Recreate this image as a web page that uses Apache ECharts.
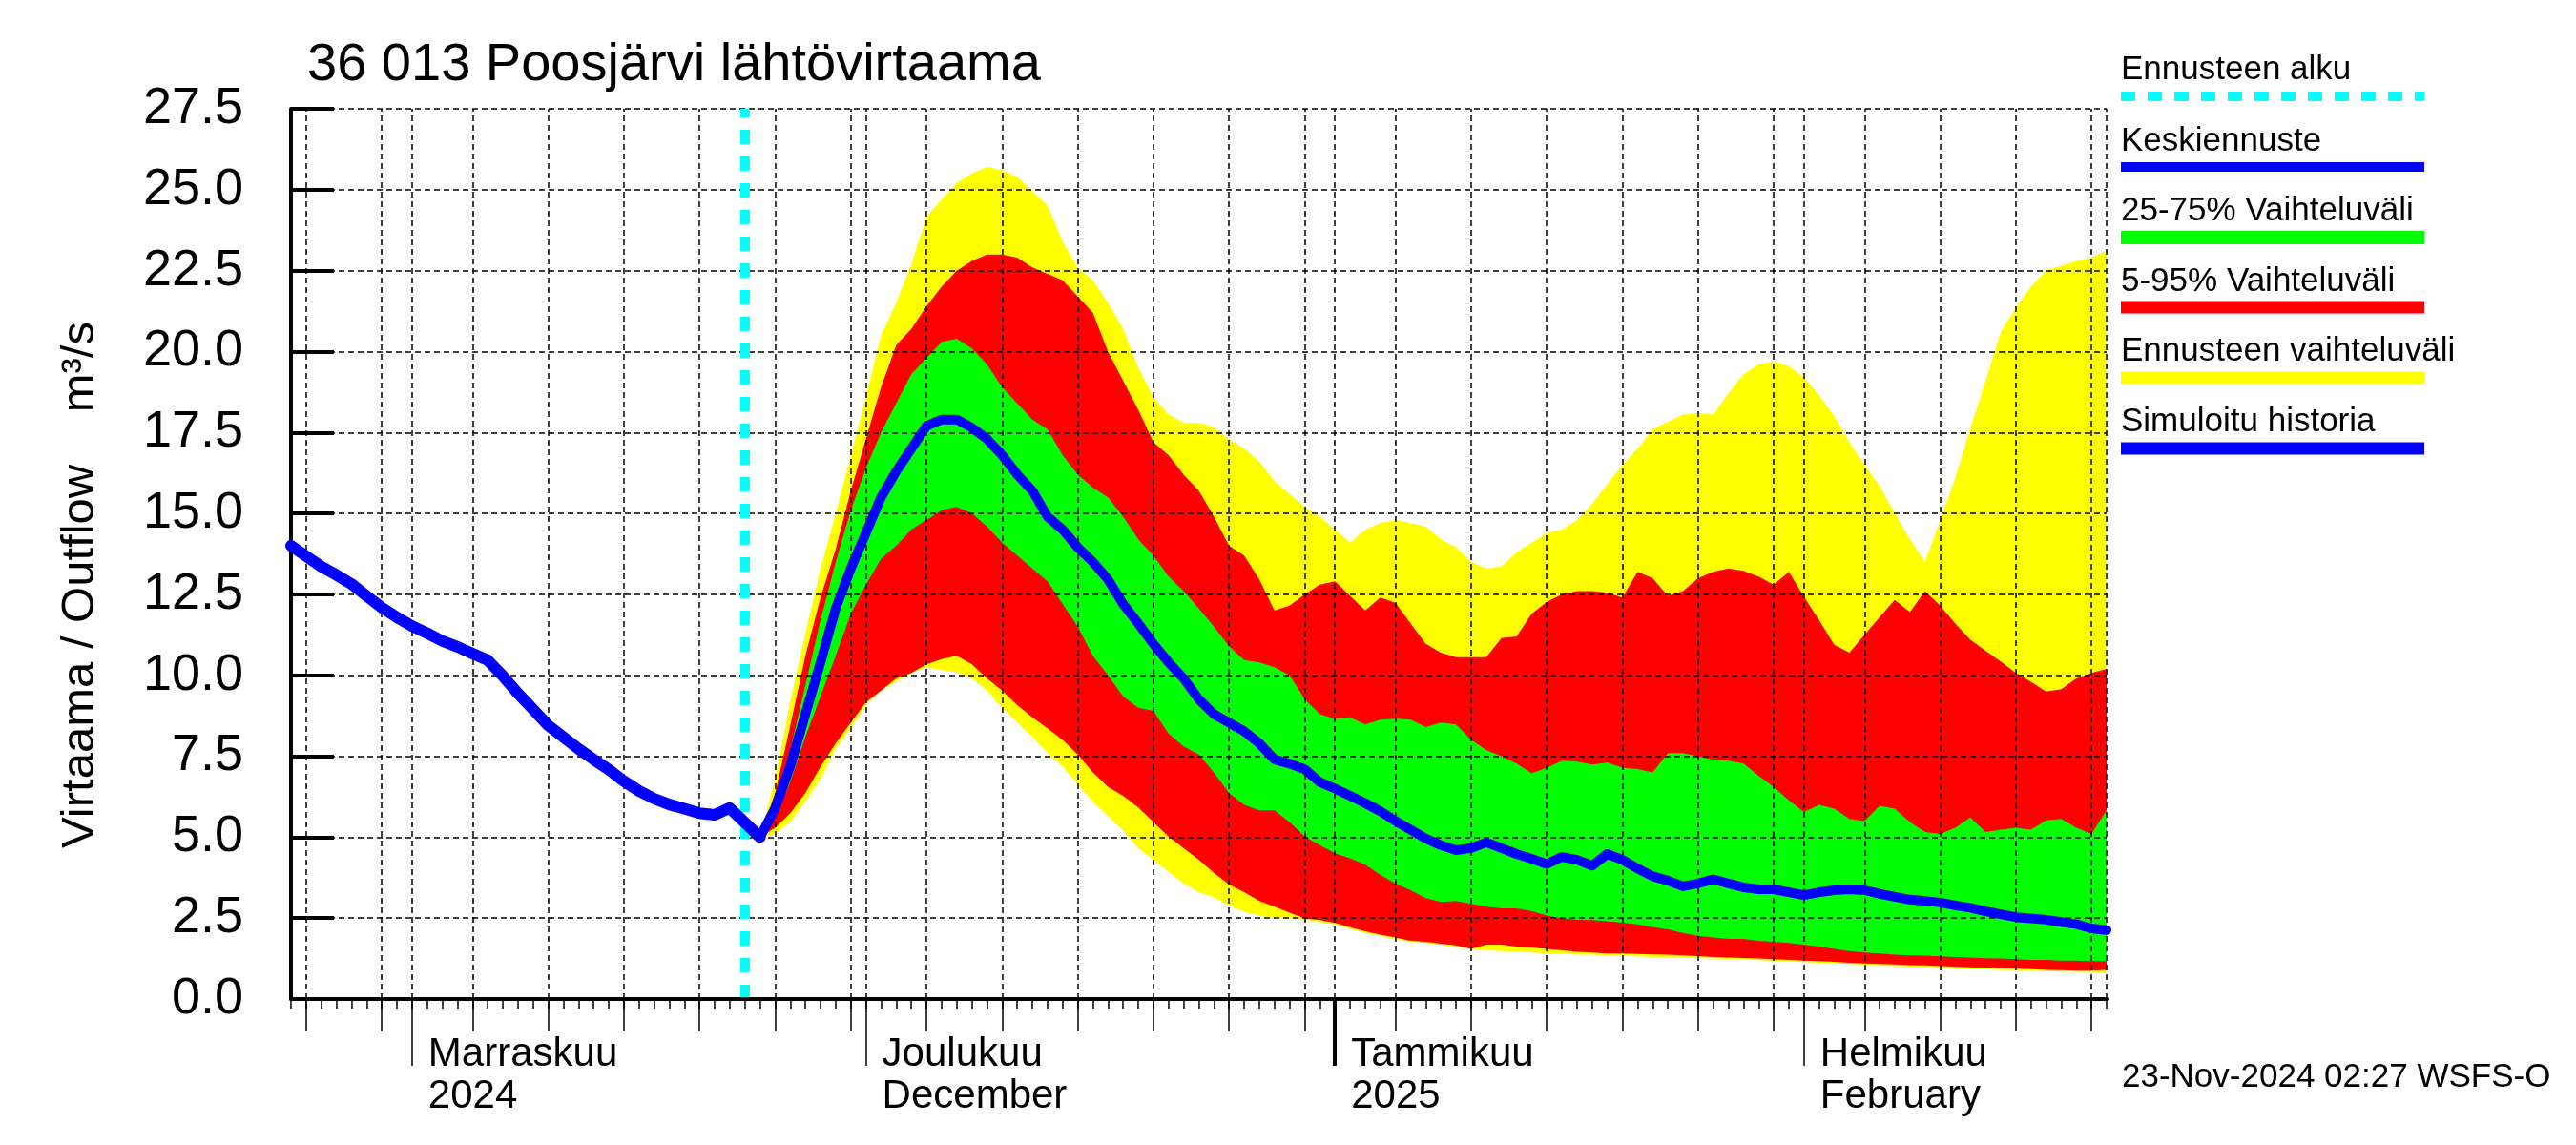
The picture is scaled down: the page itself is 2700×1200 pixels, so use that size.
<!DOCTYPE html>
<html>
<head>
<meta charset="utf-8">
<script src="https://cdn.jsdelivr.net/npm/echarts@6/dist/echarts.min.js"></script>
<style>
html,body{margin:0;padding:0;background:#fff;}
#chart{width:2700px;height:1200px;}
</style>
</head>
<body>
<div id="chart"></div>
<script>
// ---------------- data ----------------
const titleText = '36 013 Poosjärvi lähtövirtaama';
const yAxisName = 'Virtaama / Outflow    m³/s';
const stampText = '23-Nov-2024 02:27 WSFS-O';

const axisStart = '2024-10-24';
const axisEnd = '2025-02-21';
const forecastStartLine = '2024-11-23';

const yMin = 0, yMax = 27.5, yStep = 2.5;

// simulated history, daily from 2024-10-24
const historyStart = '2024-10-24';
const history = [14.0, 13.68, 13.36, 13.1, 12.82, 12.45, 12.09, 11.79, 11.52, 11.3,
  11.06, 10.88, 10.67, 10.47, 9.98, 9.44, 8.95, 8.45, 8.09, 7.73,
  7.4, 7.09, 6.73, 6.43, 6.19, 6.01, 5.88, 5.74, 5.69, 5.9,
  5.45, 5.0];

// forecast, daily from 2024-11-24
const forecastStart = '2024-11-24';
const ensMax = [5.0, 6.8, 9.2, 11.3, 13.3, 15.0, 16.8, 18.6, 20.5, 21.5,
  22.7, 24.15, 24.7, 25.2, 25.5, 25.7, 25.6, 25.4, 24.96, 24.5,
  23.4, 22.6, 22.2, 21.5, 20.7, 19.5, 18.6, 18.05, 17.8, 17.8,
  17.65, 17.3, 17.0, 16.6, 16.0, 15.6, 15.2, 14.9, 14.5, 14.1,
  14.5, 14.7, 14.8, 14.7, 14.6, 14.2, 13.95, 13.5, 13.3, 13.36,
  13.8, 14.1, 14.4, 14.5, 14.8, 15.3, 15.9, 16.5, 17.0, 17.6,
  17.83, 18.05, 18.1, 18.05, 18.7, 19.3, 19.6, 19.7, 19.55, 19.2,
  18.65, 18.0, 17.2, 16.5, 15.85, 15.0, 14.2, 13.5, 14.8, 16.1,
  17.65, 19.1, 20.6, 21.35, 22.0, 22.5, 22.65, 22.8, 22.9, 23.1];
const p95 = [5.0, 6.37, 8.45, 10.6, 12.4, 13.9, 15.7, 17.3, 18.9, 20.2,
  20.7, 21.4, 22.0, 22.5, 22.8, 23.0, 23.0, 22.9, 22.6, 22.4,
  22.2, 21.7, 21.2, 20.0, 19.1, 18.2, 17.2, 16.8, 16.2, 15.7,
  14.9, 14.0, 13.7, 12.96, 12.0, 12.15, 12.5, 12.8, 12.9, 12.45,
  12.0, 12.4, 12.24, 11.6, 10.97, 10.7, 10.56, 10.56, 10.56, 11.15,
  11.2, 11.9, 12.27, 12.5, 12.6, 12.6, 12.55, 12.4, 13.2, 13.0,
  12.45, 12.6, 13.0, 13.2, 13.3, 13.23, 13.05, 12.8, 13.2, 12.42,
  11.7, 10.94, 10.7, 11.25, 11.8, 12.33, 11.95, 12.6, 12.15, 11.6,
  11.1, 10.76, 10.43, 10.07, 9.8, 9.5, 9.57, 9.9, 10.07, 10.2];
const p75 = [5.0, 6.19, 7.7, 9.7, 11.7, 13.5, 15.1, 16.4, 17.5, 18.4,
  19.3, 19.8, 20.3, 20.4, 20.1, 19.6, 18.9, 18.4, 17.9, 17.6,
  16.8, 16.2, 15.8, 15.5, 14.9, 14.2, 13.7, 13.05, 12.6, 12.06,
  11.5, 10.9, 10.47, 10.4, 10.25, 10.0, 9.26, 8.8, 8.66, 8.7,
  8.48, 8.63, 8.66, 8.63, 8.4, 8.54, 8.48, 8.0, 7.69, 7.5,
  7.27, 6.97, 7.15, 7.36, 7.33, 7.24, 7.3, 7.15, 7.1, 7.0,
  7.6, 7.6, 7.5, 7.4, 7.36, 7.27, 6.9, 6.55, 6.14, 5.78,
  6.0, 5.88, 5.56, 5.5, 5.97, 5.88, 5.47, 5.16, 5.1, 5.29,
  5.61, 5.16, 5.23, 5.29, 5.23, 5.52, 5.56, 5.29, 5.1, 5.83];
const median = [5.0, 5.9, 7.2, 8.8, 10.4, 12.06, 13.3, 14.4, 15.5, 16.3,
  17.0, 17.7, 17.9, 17.9, 17.65, 17.3, 16.8, 16.2, 15.7, 14.9,
  14.5, 13.95, 13.5, 12.96, 12.2, 11.6, 10.97, 10.4, 9.9, 9.26,
  8.8, 8.54, 8.27, 7.9, 7.4, 7.27, 7.1, 6.7, 6.5, 6.28,
  6.05, 5.8, 5.5, 5.23, 4.96, 4.75, 4.6, 4.66, 4.84, 4.66,
  4.48, 4.33, 4.17, 4.39, 4.3, 4.12, 4.48, 4.3, 4.03, 3.79,
  3.66, 3.48, 3.57, 3.7, 3.57, 3.45, 3.39, 3.39, 3.3, 3.21,
  3.3, 3.36, 3.39, 3.36, 3.25, 3.16, 3.07, 3.03, 2.98, 2.89,
  2.82, 2.71, 2.62, 2.53, 2.49, 2.45, 2.38, 2.31, 2.18, 2.13];
const p25 = [5.0, 5.65, 6.7, 8.1, 9.35, 10.6, 11.9, 12.8, 13.6, 14.0,
  14.5, 14.8, 15.1, 15.2, 15.0, 14.6, 14.1, 13.7, 13.3, 12.9,
  12.2, 11.5, 10.6, 10.0, 9.35, 9.0, 8.9, 8.2, 7.8, 7.55,
  7.0, 6.37, 6.0, 5.83, 5.83, 5.47, 5.02, 4.75, 4.5, 4.35,
  4.15, 3.84, 3.57, 3.36, 3.12, 3.0, 3.03, 2.94, 2.85, 2.8,
  2.8, 2.72, 2.58, 2.49, 2.45, 2.44, 2.4, 2.36, 2.31, 2.22,
  2.15, 2.04, 1.95, 1.9, 1.86, 1.86, 1.8, 1.77, 1.73, 1.68,
  1.62, 1.55, 1.48, 1.44, 1.41, 1.37, 1.35, 1.34, 1.32, 1.3,
  1.28, 1.26, 1.25, 1.23, 1.21, 1.21, 1.19, 1.19, 1.17, 1.17];
const p5 = [5.0, 5.29, 5.74, 6.37, 7.18, 7.9, 8.54, 9.17, 9.53, 9.9,
  10.07, 10.34, 10.5, 10.6, 10.34, 9.9, 9.53, 9.08, 8.7, 8.36,
  8.0, 7.55, 7.0, 6.55, 6.28, 5.92, 5.47, 5.02, 4.66, 4.3,
  3.9, 3.54, 3.3, 3.03, 2.85, 2.67, 2.49, 2.44, 2.35, 2.22,
  2.09, 1.99, 1.9, 1.8, 1.77, 1.71, 1.66, 1.55, 1.68, 1.68,
  1.62, 1.59, 1.55, 1.5, 1.46, 1.44, 1.41, 1.41, 1.39, 1.38,
  1.37, 1.35, 1.33, 1.3, 1.28, 1.27, 1.25, 1.23, 1.21, 1.19,
  1.17, 1.15, 1.12, 1.1, 1.08, 1.07, 1.05, 1.04, 1.02, 1.0,
  0.98, 0.97, 0.95, 0.94, 0.92, 0.9, 0.89, 0.88, 0.88, 0.9];
const ensMin = [5.0, 5.1, 5.47, 6.1, 6.8, 7.73, 8.36, 9.08, 9.53, 9.8,
  10.07, 10.25, 10.16, 10.1, 9.9, 9.53, 9.0, 8.54, 8.1, 7.6,
  7.18, 6.64, 6.1, 5.65, 5.2, 4.66, 4.3, 3.93, 3.57, 3.3,
  3.15, 2.89, 2.7, 2.58, 2.49, 2.49, 2.45, 2.38, 2.31, 2.17,
  2.04, 1.95, 1.86, 1.77, 1.73, 1.68, 1.62, 1.55, 1.5, 1.48,
  1.46, 1.44, 1.41, 1.41, 1.37, 1.37, 1.35, 1.34, 1.32, 1.3,
  1.3, 1.28, 1.27, 1.25, 1.23, 1.22, 1.2, 1.18, 1.16, 1.14,
  1.12, 1.1, 1.08, 1.06, 1.04, 1.02, 1.0, 0.98, 0.96, 0.95,
  0.93, 0.92, 0.9, 0.89, 0.87, 0.86, 0.85, 0.84, 0.83, 0.82];

// axis ticks / labels
const monthStarts = ['2024-11-01', '2024-12-01', '2025-01-01', '2025-02-01'];
const monthLabels = ['Marraskuu\n2024', 'Joulukuu\nDecember', 'Tammikuu\n2025', 'Helmikuu\nFebruary'];
const yearStarts = ['2025-01-01'];
const gridDays = ['2024-10-25', '2024-10-30', '2024-11-01', '2024-11-05', '2024-11-10', '2024-11-15',
  '2024-11-20', '2024-11-25', '2024-11-30', '2024-12-01', '2024-12-05', '2024-12-10', '2024-12-15',
  '2024-12-20', '2024-12-25', '2024-12-30', '2025-01-01', '2025-01-05', '2025-01-10', '2025-01-15',
  '2025-01-20', '2025-01-25', '2025-01-30', '2025-02-01', '2025-02-05', '2025-02-10', '2025-02-15',
  '2025-02-20'];
const frameDays = ['2025-02-21'];

// legend
const legendLabels = ['Ennusteen alku', 'Keskiennuste', '25-75% Vaihteluväli', '5-95% Vaihteluväli', 'Ennusteen vaihteluväli', 'Simuloitu historia'];
const legendColors = ['#00ffff', '#0000ff', '#00ff00', '#ff0000', '#ffff00', '#0000ff'];

// ---------------- build ----------------
const FONT = "'Liberation Sans', Arial, Helvetica, sans-serif";
const DAY = 86400000;
const ts = s => Date.parse(s);
const t0 = ts(axisStart), t1 = ts(axisEnd);
const dailyTicks = [];
for (let t = t0; t <= t1; t += DAY) dailyTicks.push(t);
const monthTs = monthStarts.map(ts);
const series = (start, arr) => arr.map((v, i) => [ts(start) + i * DAY, v]);

// band polygon between two envelopes, positioned through the axes' scales (api.coord)
function bandSeries(name, upper, lower, color) {
  const up = series(forecastStart, upper);
  const lo = series(forecastStart, lower);
  return {
    name: name, type: 'custom', silent: true, z: 2,
    data: [up[0]],
    renderItem: function (params, api) {
      const pts = [];
      up.forEach(p => pts.push(api.coord(p)));
      for (let i = lo.length - 1; i >= 0; i--) pts.push(api.coord(lo[i]));
      return { type: 'polygon', shape: { points: pts }, style: { fill: color, stroke: null } };
    }
  };
}

const tickAxis = (values, length, width) => ({
  type: 'value', position: 'bottom', min: t0, max: t1, z: 3,
  axisLine: { show: false },
  axisTick: { show: true, customValues: values, length: length, lineStyle: { color: '#000', width: width } },
  axisLabel: { show: false },
  splitLine: { show: false }
});

const graphics = [];
graphics.push({
  type: 'text', x: 322, y: 69,
  style: { text: titleText, font: '56px ' + FONT, fill: '#000', align: 'left', verticalAlign: 'middle', textAlign: 'left', textVerticalAlign: 'middle' }
});
graphics.push({
  type: 'text', x: 84, y: 613, rotation: Math.PI / 2,
  style: { text: yAxisName, font: '49px ' + FONT, fill: '#000', align: 'center', verticalAlign: 'middle', textAlign: 'center', textVerticalAlign: 'middle' }
});
graphics.push({
  type: 'text', x: 2224, y: 1129,
  style: { text: stampText, font: '35px ' + FONT, fill: '#000', align: 'left', verticalAlign: 'middle', textAlign: 'left', textVerticalAlign: 'middle' }
});
const legX = 2223, legW = 318;
const legTextY = [73, 148, 221, 295, 368, 442];
const legBarY = [101, 175, 249, 322, 396, 470];
const legBarH = [10, 10, 14, 13, 13, 13];
legendLabels.forEach((lab, i) => {
  graphics.push({
    type: 'text', x: legX, y: legTextY[i],
    style: { text: lab, font: '35px ' + FONT, fill: '#000', align: 'left', verticalAlign: 'middle', textAlign: 'left', textVerticalAlign: 'middle' }
  });
  if (i === 0) {
    graphics.push({
      type: 'line', shape: { x1: legX, y1: legBarY[i], x2: legX + legW, y2: legBarY[i] },
      style: { stroke: legendColors[i], lineWidth: legBarH[i], lineDash: [15, 13] }
    });
  } else {
    graphics.push({
      type: 'rect', shape: { x: legX, y: legBarY[i] - legBarH[i] / 2, width: legW, height: legBarH[i] },
      style: { fill: legendColors[i] }
    });
  }
});

const dashed = { color: '#000', width: 1.5, type: [6, 4] };

const option = {
  animation: false,
  backgroundColor: '#ffffff',
  textStyle: { fontFamily: FONT },
  grid: { left: 305, right: 492, top: 114, bottom: 153, containLabel: false },
  xAxis: [
    {
      type: 'value', position: 'bottom', min: t0, max: t1, z: 4,
      axisLine: { show: true, onZero: false, lineStyle: { color: '#000', width: 4 } },
      axisTick: { show: true, customValues: dailyTicks, length: 10, lineStyle: { color: '#000', width: 1.5 } },
      axisLabel: {
        show: true, customValues: monthTs, hideOverlap: false,
        formatter: function (v) { const i = monthTs.indexOf(v); return i >= 0 ? monthLabels[i] : ''; },
        align: 'left', verticalAlign: 'top', fontSize: 42, lineHeight: 44, margin: 36,
        color: '#000', fontFamily: FONT, padding: [0, 0, 0, 17]
      },
      splitLine: { show: false }
    },
    tickAxis(gridDays.map(ts), 34, 1.5),
    tickAxis(monthTs, 70, 1.5),
    tickAxis(yearStarts.map(ts), 70, 4)
  ],
  yAxis: {
    type: 'value', min: yMin, max: yMax, interval: yStep, z: 3,
    axisLine: { show: true, lineStyle: { color: '#000', width: 4 } },
    axisTick: { show: true, inside: true, length: 45, lineStyle: { color: '#000', width: 4 } },
    axisLabel: { fontSize: 54, color: '#000', fontFamily: FONT, margin: 50, padding: [0, 0, 12, 0], formatter: v => v.toFixed(1) },
    splitLine: { show: true, lineStyle: dashed }
  },
  graphic: graphics,
  series: [
    bandSeries('Ennusteen vaihteluväli', ensMax, ensMin, '#ffff00'),
    bandSeries('5-95% Vaihteluväli', p95, p5, '#ff0000'),
    bandSeries('25-75% Vaihteluväli', p75, p25, '#00ff00'),
    {
      name: 'grid', type: 'line', data: [], silent: true, z: 3,
      markLine: {
        silent: true, symbol: ['none', 'none'], label: { show: false }, z: 3,
        lineStyle: dashed,
        data: gridDays.concat(frameDays).map(d => ({ xAxis: ts(d) }))
      }
    },
    {
      name: 'start', type: 'line', data: [], silent: true, z: 4,
      markLine: {
        silent: true, symbol: ['none', 'none'], label: { show: false }, z: 4,
        lineStyle: { color: '#00ffff', width: 10, type: [15, 13] },
        data: [{ xAxis: ts(forecastStartLine) }]
      }
    },
    {
      name: 'Simuloitu historia', type: 'line', data: series(historyStart, history),
      symbol: 'none', z: 6, lineStyle: { color: '#0000ff', width: 12, join: 'round', cap: 'round' }
    },
    {
      name: 'Keskiennuste', type: 'line', data: series(forecastStart, median),
      symbol: 'none', z: 6, lineStyle: { color: '#0000ff', width: 10, join: 'round', cap: 'round' }
    }
  ]
};

const chart = echarts.init(document.getElementById('chart'), null, { renderer: 'canvas', width: 2700, height: 1200 });
chart.setOption(option);
</script>
</body>
</html>
